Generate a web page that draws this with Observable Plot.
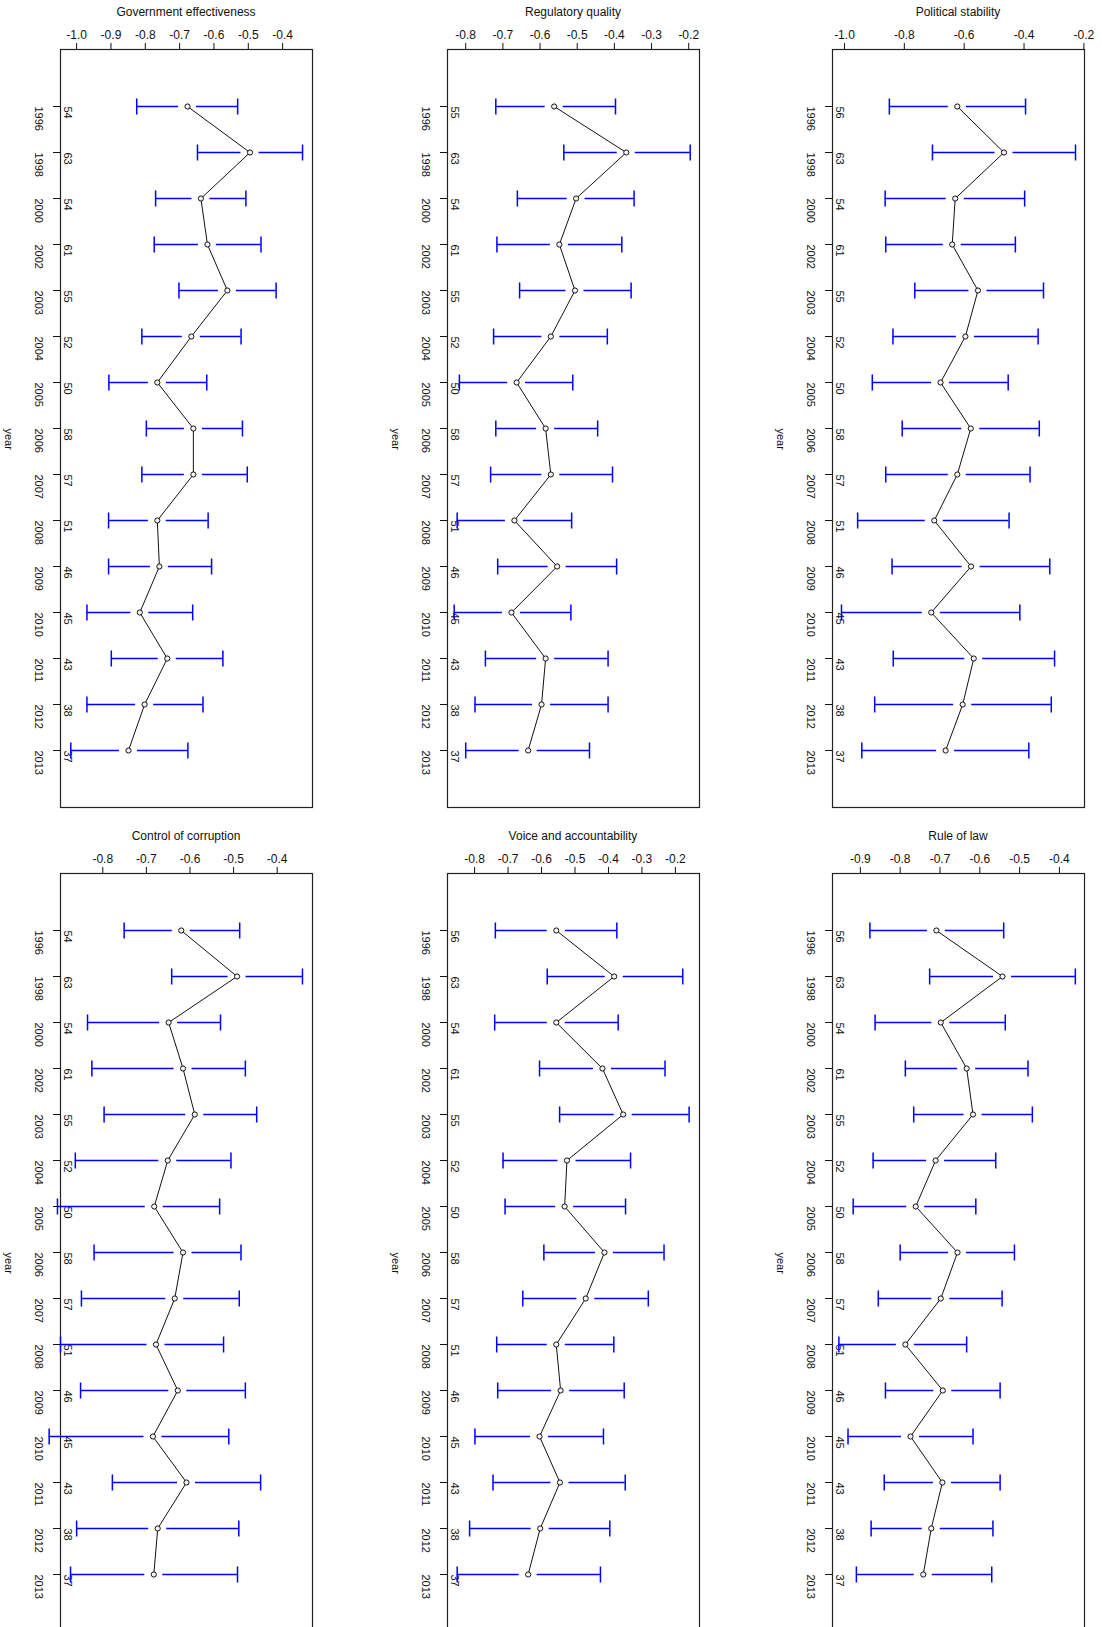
<!DOCTYPE html>
<html>
<head>
<meta charset="utf-8">
<script src="https://cdn.jsdelivr.net/npm/d3@7"></script>
<script src="https://cdn.jsdelivr.net/npm/@observablehq/plot@0.6"></script>
<style>
  html, body { margin: 0; padding: 0; background: #fff; overflow: hidden; }
  #root { position: relative; width: 1102px; height: 1627px; overflow: hidden; font-family: "Liberation Sans", Arial, sans-serif; }
  .panel { position: absolute; }
  .title { margin-left: 60px; width: 252px; height: 20px; padding-top: 2px; line-height: 20px; text-align: center; font-size: 12px; color: #111; }
  svg { display: block; }
</style>
</head>
<body>
<div id="root"></div>
<script>
// ---------- data ----------
const years = ["1996","1998","2000","2002","2003","2004","2005","2006","2007","2008","2009","2010","2011","2012","2013"];

const titles = ["Government effectiveness", "Regulatory quality", "Political stability",
                "Control of corruption", "Voice and accountability", "Rule of law"];

// Government effectiveness
const geEst = [-0.677,-0.495,-0.638,-0.619,-0.561,-0.666,-0.765,-0.660,-0.660,-0.765,-0.759,-0.816,-0.736,-0.802,-0.849];
const geLo  = [-0.825,-0.648,-0.770,-0.774,-0.702,-0.810,-0.906,-0.797,-0.810,-0.907,-0.907,-0.970,-0.899,-0.970,-1.017];
const geHi  = [-0.531,-0.342,-0.507,-0.463,-0.419,-0.521,-0.621,-0.517,-0.503,-0.617,-0.607,-0.662,-0.574,-0.632,-0.676];
const geN   = [54,63,54,61,55,52,50,58,57,51,46,45,43,38,37];
const geTicks = [-1.0,-0.9,-0.8,-0.7,-0.6,-0.5,-0.4];
const geDomain = [-1.047, -0.313];

// Regulatory quality
const rqEst = [-0.562,-0.368,-0.503,-0.548,-0.506,-0.571,-0.663,-0.585,-0.571,-0.669,-0.554,-0.677,-0.585,-0.596,-0.632];
const rqLo  = [-0.719,-0.536,-0.661,-0.716,-0.655,-0.725,-0.817,-0.719,-0.733,-0.823,-0.714,-0.831,-0.747,-0.775,-0.800];
const rqHi  = [-0.397,-0.196,-0.347,-0.380,-0.355,-0.419,-0.512,-0.445,-0.405,-0.515,-0.394,-0.517,-0.417,-0.417,-0.467];
const rqN   = [55,63,54,61,55,52,50,58,57,51,46,45,43,38,37];
const rqTicks = [-0.8,-0.7,-0.6,-0.5,-0.4,-0.3,-0.2];
const rqDomain = [-0.849, -0.171];

// Political stability
const psEst = [-0.623,-0.467,-0.630,-0.640,-0.554,-0.596,-0.679,-0.578,-0.623,-0.700,-0.577,-0.710,-0.568,-0.605,-0.662];
const psLo  = [-0.850,-0.706,-0.864,-0.862,-0.765,-0.838,-0.907,-0.807,-0.862,-0.956,-0.841,-1.010,-0.837,-0.899,-0.942];
const psHi  = [-0.395,-0.228,-0.398,-0.429,-0.335,-0.353,-0.453,-0.349,-0.380,-0.450,-0.314,-0.414,-0.298,-0.309,-0.384];
const psN   = [56,63,54,61,55,52,50,58,57,51,46,45,43,38,37];
const psTicks = [-1.0,-0.8,-0.6,-0.4,-0.2];
const psDomain = [-1.040, -0.198];

// Control of corruption
const ccEst = [-0.620,-0.492,-0.649,-0.616,-0.589,-0.651,-0.682,-0.616,-0.635,-0.678,-0.628,-0.685,-0.608,-0.674,-0.683];
const ccLo  = [-0.751,-0.642,-0.835,-0.825,-0.797,-0.863,-0.904,-0.820,-0.849,-0.897,-0.851,-0.923,-0.778,-0.860,-0.874];
const ccHi  = [-0.486,-0.342,-0.530,-0.473,-0.447,-0.506,-0.532,-0.483,-0.487,-0.523,-0.473,-0.511,-0.438,-0.488,-0.491];
const ccN   = [54,63,54,61,55,52,50,58,57,51,46,45,43,38,37];
const ccTicks = [-0.8,-0.7,-0.6,-0.5,-0.4];
const ccDomain = [-0.897, -0.319];

// Voice and accountability
const vaEst = [-0.556,-0.383,-0.556,-0.418,-0.356,-0.524,-0.531,-0.412,-0.468,-0.556,-0.543,-0.606,-0.545,-0.604,-0.640];
const vaLo  = [-0.738,-0.583,-0.740,-0.606,-0.546,-0.715,-0.709,-0.593,-0.656,-0.734,-0.731,-0.799,-0.745,-0.815,-0.852];
const vaHi  = [-0.375,-0.178,-0.371,-0.231,-0.159,-0.334,-0.349,-0.234,-0.281,-0.384,-0.353,-0.415,-0.350,-0.396,-0.424];
const vaN   = [56,63,54,61,55,52,50,58,57,51,46,45,43,38,37];
const vaTicks = [-0.8,-0.7,-0.6,-0.5,-0.4,-0.3,-0.2];
const vaDomain = [-0.881, -0.128];

// Rule of law
const rlEst = [-0.709,-0.543,-0.698,-0.633,-0.617,-0.711,-0.761,-0.656,-0.698,-0.787,-0.693,-0.774,-0.694,-0.722,-0.742];
const rlLo  = [-0.876,-0.726,-0.863,-0.787,-0.766,-0.868,-0.918,-0.800,-0.855,-0.954,-0.837,-0.931,-0.840,-0.873,-0.910];
const rlHi  = [-0.540,-0.360,-0.536,-0.479,-0.468,-0.560,-0.610,-0.513,-0.544,-0.633,-0.549,-0.617,-0.549,-0.567,-0.570];
const rlN   = [56,63,54,61,55,52,50,58,57,51,46,45,43,38,37];
const rlTicks = [-0.9,-0.8,-0.7,-0.6,-0.5,-0.4];
const rlDomain = [-0.970, -0.337];

// ---------- drawing ----------
const panels = [
  {title: titles[0], est: geEst, lo: geLo, hi: geHi, n: geN, ticks: geTicks, domain: geDomain, col: 0, row: 0},
  {title: titles[1], est: rqEst, lo: rqLo, hi: rqHi, n: rqN, ticks: rqTicks, domain: rqDomain, col: 1, row: 0},
  {title: titles[2], est: psEst, lo: psLo, hi: psHi, n: psN, ticks: psTicks, domain: psDomain, col: 2, row: 0},
  {title: titles[3], est: ccEst, lo: ccLo, hi: ccHi, n: ccN, ticks: ccTicks, domain: ccDomain, col: 0, row: 1},
  {title: titles[4], est: vaEst, lo: vaLo, hi: vaHi, n: vaN, ticks: vaTicks, domain: vaDomain, col: 1, row: 1},
  {title: titles[5], est: rlEst, lo: rlLo, hi: rlHi, n: rlN, ticks: rlTicks, domain: rlDomain, col: 2, row: 1}
];

const colLeft = [0, 387, 772];
const rowTop = [0, 824];
const BLUE = "#0000ff";
const cap = {draw(ctx) { ctx.moveTo(0, -8); ctx.lineTo(0, 8); }};
const fmt = d => d.toFixed(1);

function makePanel(cfg) {
  const data = years.map((y, i) => ({year: y, est: cfg.est[i], lo: cfg.lo[i], hi: cfg.hi[i], n: cfg.n[i]}));
  return Plot.plot({
    width: 328,
    height: 798,
    marginTop: 27,
    marginLeft: 60,
    marginRight: 16,
    marginBottom: 13,
    style: {fontFamily: "'Liberation Sans', Arial, sans-serif", fontSize: "12px", color: "#111", background: "white", overflow: "visible"},
    x: {domain: cfg.domain, axis: null},
    y: {type: "point", domain: years, padding: 1.1, axis: null},
    marks: [
      Plot.frame({stroke: "#222", strokeWidth: 1.2}),
      Plot.axisX({ticks: cfg.ticks, anchor: "top", tickSize: 7, tickPadding: 4, tickFormat: fmt, label: null, fontSize: 12}),
      Plot.axisY({anchor: "left", tickSize: 7, tickFormat: () => "", label: null}),
      Plot.text(data, {y: "year", text: "year", frameAnchor: "left", dx: -22, rotate: 90, fontSize: 11}),
      Plot.text(data, {y: "year", text: d => String(d.n), frameAnchor: "left", dx: 7, rotate: 90, fontSize: 11}),
      Plot.text(["year"], {frameAnchor: "left", dx: -52, rotate: 90, fontSize: 11}),
      Plot.ruleY(data, {y: "year", x1: "lo", x2: "est", insetRight: 9, stroke: BLUE, strokeWidth: 1.5}),
      Plot.ruleY(data, {y: "year", x1: "est", x2: "hi", insetLeft: 9, stroke: BLUE, strokeWidth: 1.5}),
      Plot.dot(data, {x: "lo", y: "year", symbol: cap, r: 4, fill: "none", stroke: BLUE, strokeWidth: 1.5}),
      Plot.dot(data, {x: "hi", y: "year", symbol: cap, r: 4, fill: "none", stroke: BLUE, strokeWidth: 1.5}),
      Plot.line(data, {x: "est", y: "year", stroke: "#111", strokeWidth: 1}),
      Plot.dot(data, {x: "est", y: "year", r: 2.6, fill: "#f2f2f2", stroke: "#111", strokeWidth: 1})
    ]
  });
}

const root = document.getElementById("root");
for (const cfg of panels) {
  const div = document.createElement("div");
  div.className = "panel";
  div.style.left = colLeft[cfg.col] + "px";
  div.style.top = rowTop[cfg.row] + "px";
  const t = document.createElement("div");
  t.className = "title";
  t.textContent = cfg.title;
  div.appendChild(t);
  div.appendChild(makePanel(cfg));
  root.appendChild(div);
}
</script>
</body>
</html>
